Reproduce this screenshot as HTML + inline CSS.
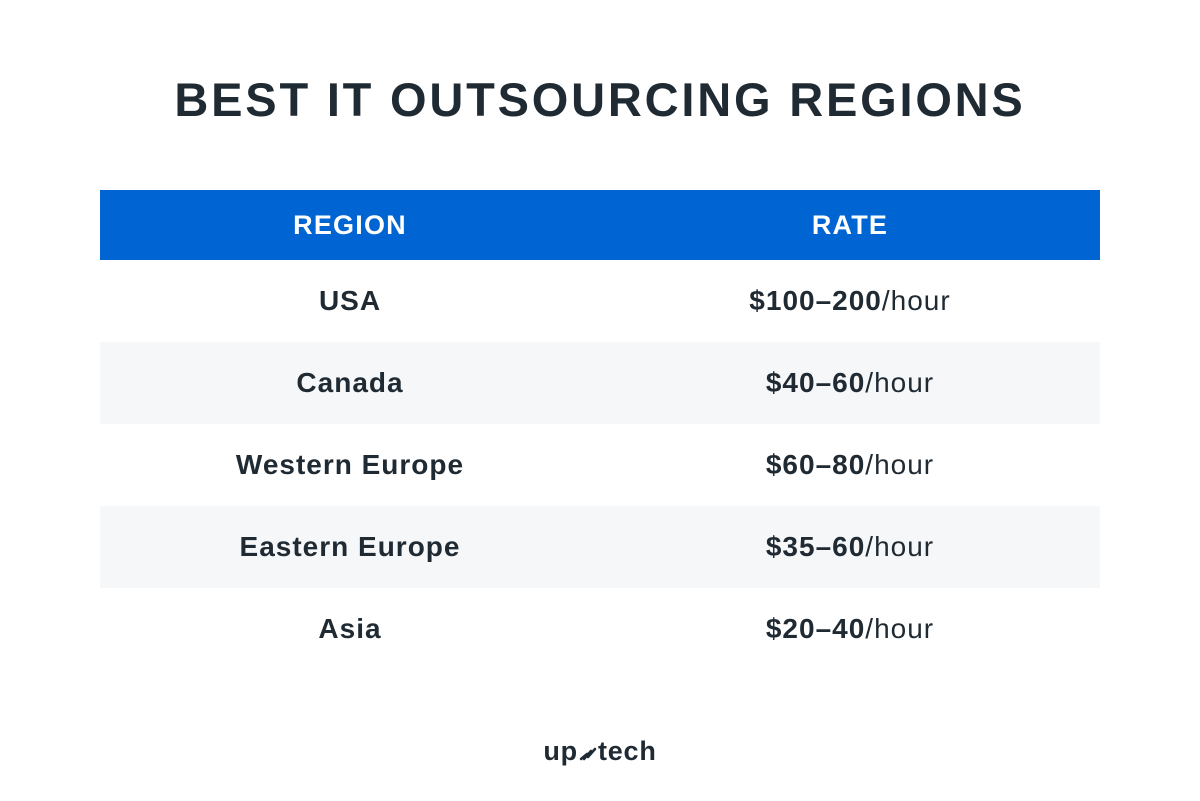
<!DOCTYPE html>
<html><head><meta charset="utf-8">
<style>
body{margin:0;width:1200px;height:801px;background:#fff;font-family:"Liberation Sans",sans-serif;color:#1f2a33;position:relative;overflow:hidden}
h1{position:absolute;top:72px;left:0;width:1200px;text-align:center;margin:0;font-size:47px;font-weight:900;letter-spacing:2.8px;line-height:56px}
.tbl{position:absolute;left:100px;top:190px;width:1000px}
.row{display:flex;height:82px;align-items:center;font-size:28px;letter-spacing:1px}
.row.hd{height:70px;background:#0064d2;color:#fff;font-weight:bold;font-size:27px;letter-spacing:1.2px}
.row.alt{background:#f6f7f9}
.c{width:500px;text-align:center}
.b{font-weight:bold}
.logo{position:absolute;top:736px;left:0;width:1200px;text-align:center;font-size:27px;font-weight:bold;letter-spacing:0.8px;color:#1f2a33}
</style></head><body>
<h1>BEST IT OUTSOURCING REGIONS</h1>
<div class="tbl">
<div class="row hd"><div class="c">REGION</div><div class="c">RATE</div></div>
<div class="row"><div class="c b">USA</div><div class="c"><b>$100–200</b>/hour</div></div>
<div class="row alt"><div class="c b">Canada</div><div class="c"><b>$40–60</b>/hour</div></div>
<div class="row"><div class="c b">Western Europe</div><div class="c"><b>$60–80</b>/hour</div></div>
<div class="row alt"><div class="c b">Eastern Europe</div><div class="c"><b>$35–60</b>/hour</div></div>
<div class="row"><div class="c b">Asia</div><div class="c"><b>$20–40</b>/hour</div></div>
</div>
<div class="logo">up<svg width="20" height="16" viewBox="0 0 18 16" style="vertical-align:-1px"><path d="M2 14 L8 9 M5 14 L12 6 M9 12 L16 4" stroke="#1f2a33" stroke-width="2.5" stroke-linecap="round"/></svg>tech</div>
</body></html>
